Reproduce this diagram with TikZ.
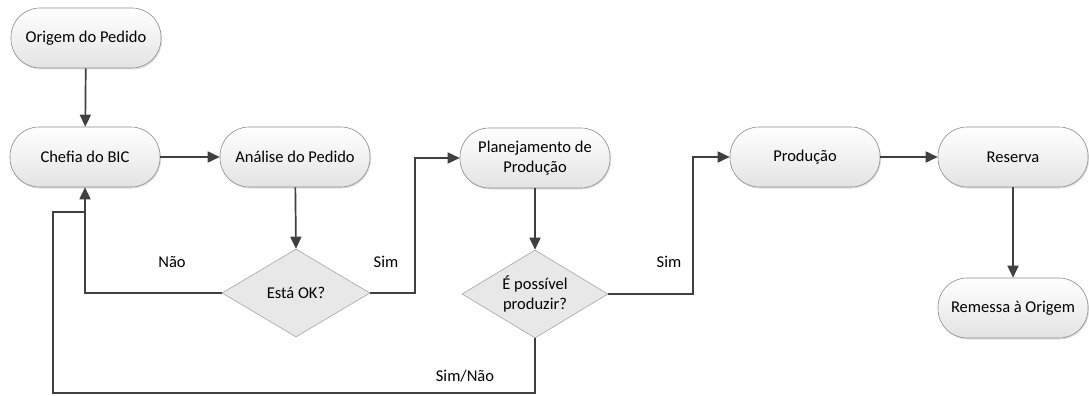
\documentclass[tikz,border=0pt]{standalone}
\usepackage{fontspec}
\setmainfont{Carlito}
\usetikzlibrary{shapes.geometric,arrows.meta,shadows}
\begin{document}
\begin{tikzpicture}[x=1pt,y=-1pt,
  term/.style={draw=black!45, line width=0.6pt, rounded corners=29pt,
    minimum width=150pt, minimum height=60pt, top color=white, bottom color=black!11,
    align=center, font=\fontsize{16.5}{19.5}\selectfont, inner sep=2pt,
    drop shadow={shadow xshift=1pt, shadow yshift=-1.5pt, opacity=0.25}},
  decis/.style={diamond, draw=black!35, line width=0.6pt, fill=black!9,
    minimum width=148pt, minimum height=88pt, inner sep=0pt, aspect=1.68,
    align=center, font=\fontsize{16.5}{19.5}\selectfont},
  conn/.style={draw=black!75, line width=1.7pt, -{Triangle[length=12pt,width=11pt]}},
  connb/.style={draw=black!75, line width=1.7pt},
  lbl/.style={font=\fontsize{16.5}{19.5}\selectfont}
]
\useasboundingbox (0,0) rectangle (1089,396);

\node[term] (orig) at (86,38) {Origem do Pedido};
\node[term] (chef) at (85,157) {Chefia do BIC};
\node[term] (anal) at (295,157) {Análise do Pedido};
\node[term] (plan) at (535,158) {Planejamento de\\Produção};
\node[term] (prod) at (805,157) {Produção};
\node[term] (res)  at (1013,157) {Reserva};
\node[term] (rem)  at (1013,308) {Remessa à Origem};

\node[decis, minimum width=148pt, minimum height=88pt] (ok) at (296,293) {Está OK?};
\node[decis, minimum width=146pt, minimum height=88pt] (pos) at (535,294) {É possível\\produzir?};

\coordinate (j1) at (85,212);

\draw[conn] (orig) -- (chef);
\draw[conn] (chef) -- (anal);
\draw[conn] (anal) -- (ok.north);
\draw[conn] (ok.east) -- (415,293) |- (plan.west);
\draw[conn] (ok.west) -| (chef.south);
\draw[conn] (plan) -- (pos.north);
\draw[conn] (pos.east) -- (693,294) |- (prod.west);
\draw[connb] (pos.south) -- (535,393) -| (53,212) -- (j1);
\draw[conn] (prod) -- (res);
\draw[conn] (res) -- (rem);

\node[lbl] (lsim1) at (386,262) {Sim};
\node[lbl] (lnao) at (172,262) {Não};
\node[lbl] (lsim2) at (669,262) {Sim};
\node[lbl] (lsn) at (465,376) {Sim/Não};
\end{tikzpicture}
\end{document}
